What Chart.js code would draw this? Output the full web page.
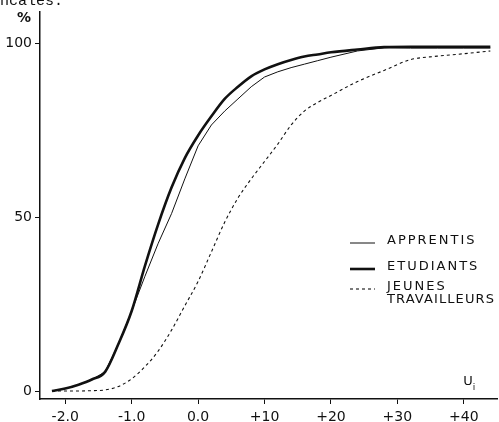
<!DOCTYPE html>
<html>
<head>
<meta charset="utf-8">
<script src="https://cdn.jsdelivr.net/npm/chart.js@4.4.1/dist/chart.umd.min.js"></script>
<style>
  body { margin: 0; background: #fff; }
  canvas { display: block; }
</style>
</head>
<body>
<canvas id="curves" width="499" height="422"></canvas>
<script>
// U_i values (shared x grid for the three curves)
const uValues = [-2.2, -2.0, -1.8, -1.6, -1.4, -1.2, -1.0, -0.8, -0.6, -0.4, -0.2, 0.0, 0.2, 0.4,
                 0.6, 0.8, 1.0, 1.2, 1.4, 1.6, 1.8, 2.0, 2.4, 2.8, 3.2, 3.6, 4.0, 4.4];

// cumulative % per group
const apprentis = [0, 0.7, 1.8, 3.3, 5.5, 13.5, 23, 33, 42.5, 51, 61, 70.5, 76.5, 80.5,
                   84, 87.5, 90.3, 91.8, 93, 94, 95, 96, 97.8, 98.7, 98.6, 98.6, 98.6, 98.6];
const etudiants = [0, 0.7, 1.8, 3.3, 5.5, 13.5, 23, 36, 48, 58.5, 67, 73.5, 79, 84,
                   87.5, 90.5, 92.5, 94, 95.2, 96.2, 96.8, 97.4, 98.2, 98.9, 99, 99, 99, 99];
const jeunes = [0, 0, 0, 0.1, 0.3, 1.3, 3.5, 7, 11.5, 17.5, 24.5, 31.5, 40, 48.5,
                55.5, 61, 66, 71, 76.5, 80.5, 83, 85, 89, 92.2, 95.3, 96.3, 97, 97.8];

const seriesNames = ['APPRENTIS', 'ETUDIANTS', 'JEUNES\nTRAVAILLEURS'];

// axis ticks
const xTickValues = [-2, -1, 0, 1, 2, 3, 4];
const xTickLabels = ['-2.0', '-1.0', '0.0', '+10', '+20', '+30', '+40'];
const yTickValues = [0, 50, 100];
const yTickLabels = ['0', '50', '100'];

const ink = '#111';

function points(ys) {
    return uValues.map((u, i) => ({ x: u, y: ys[i] }));
}

// legend + axis captions drawn by hand (two-line label, sample strokes)
const annotations = {
    id: 'annotations',
    afterDraw(chart) {
        const ctx = chart.ctx;
        ctx.save();
        ctx.fillStyle = ink;

        // cut-off line of text from the page above
        ctx.font = '15px "Liberation Mono"';
        ctx.textBaseline = 'alphabetic';
        ctx.fillText('ncales.', 0, 5);

        ctx.font = 'bold 14px "DejaVu Sans"';
        ctx.textBaseline = 'middle';
        ctx.textAlign = 'center';
        ctx.fillText('%', 24, 18);

        ctx.font = '13px "DejaVu Sans"';
        ctx.fillText('U', 468, 382);
        ctx.font = '9px "DejaVu Sans"';
        ctx.fillText('i', 474, 388);

        // legend
        const rows = [241, 267, 287];
        ctx.textAlign = 'left';
        ctx.font = '13px "DejaVu Sans"';
        chart.data.datasets.forEach((ds, i) => {
            const y = rows[i];
            ctx.beginPath();
            ctx.strokeStyle = ds.borderColor;
            ctx.lineWidth = ds.borderWidth;
            ctx.setLineDash(ds.borderDash || []);
            ctx.moveTo(350, y + 2);
            ctx.lineTo(375, y + 2);
            ctx.stroke();
            ctx.setLineDash([]);
            seriesNames[i].split('\n').forEach((line, k) => {
                ctx.letterSpacing = line.length > 10 ? '1.1px' : '2px';
                ctx.fillText(line, 387, y + k * 13);
            });
        });
        ctx.restore();
    }
};

const config = {
    type: 'line',
    data: {
        datasets: [
            {
                label: 'APPRENTIS',
                data: points(apprentis),
                borderColor: ink,
                borderWidth: 1,
                tension: 0
            },
            {
                label: 'ETUDIANTS',
                data: points(etudiants),
                borderColor: ink,
                borderWidth: 2.6,
                cubicInterpolationMode: 'monotone'
            },
            {
                label: 'JEUNES TRAVAILLEURS',
                data: points(jeunes),
                borderColor: ink,
                borderWidth: 1.1,
                borderDash: [3, 3],
                cubicInterpolationMode: 'monotone'
            }
        ]
    },
    options: {
        responsive: false,
        animation: false,
        elements: { point: { radius: 0 } },
        layout: { padding: { top: 12, right: 2, left: 0, bottom: 0 } },
        plugins: {
            legend: { display: false },
            tooltip: { enabled: false }
        },
        scales: {
            x: {
                type: 'linear',
                min: -2.38,
                max: 4.5,
                afterBuildTicks: function(scale) {
                    scale.ticks = xTickValues.map(v => ({ value: v }));
                },
                afterFit: function(scale) {
                    scale.height = 23;
                },
                border: { display: true, color: ink, width: 1.5 },
                grid: { drawOnChartArea: false, drawTicks: true, tickLength: 5, color: ink },
                ticks: {
                    color: ink,
                    padding: 5,
                    maxRotation: 0,
                    autoSkip: false,
                    font: { family: 'DejaVu Sans', size: 14 },
                    callback: function(value, index) {
                        return xTickLabels[index];
                    }
                }
            },
            y: {
                min: -2.3,
                max: 109,
                afterBuildTicks: function(scale) {
                    scale.ticks = yTickValues.map(v => ({ value: v }));
                },
                afterFit: function(scale) {
                    scale.width = 40;
                },
                border: { display: true, color: ink, width: 1.5 },
                grid: { drawOnChartArea: false, drawTicks: true, tickLength: 5, color: ink },
                ticks: {
                    color: ink,
                    padding: 3,
                    autoSkip: false,
                    font: { family: 'DejaVu Sans', size: 14 },
                    callback: function(value, index) {
                        return yTickLabels[index];
                    }
                }
            }
        }
    },
    plugins: [annotations]
};

new Chart(document.getElementById('curves'), config);
</script>
</body>
</html>
